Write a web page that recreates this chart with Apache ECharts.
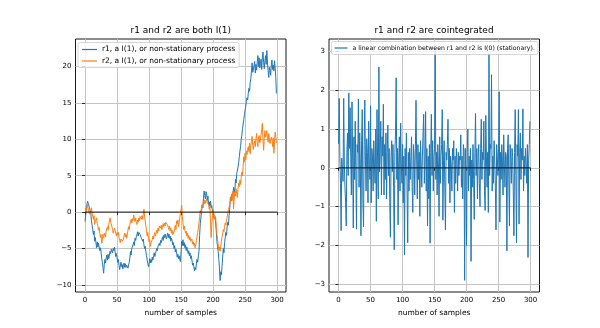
<!DOCTYPE html>
<html>
<head>
<meta charset="utf-8">
<script src="https://cdn.jsdelivr.net/npm/echarts@6/dist/echarts.min.js"></script>
<style>
  html, body { margin: 0; padding: 0; background: #fff; }
  #chart { width: 600px; height: 328px; }
</style>
</head>
<body>
<div id="chart"></div>
<script>
// r1: first I(1) random walk (300 samples)
const r1 = [
  -1.3, -0.4, 0.3, 1.1, 1.5, 1.2, 1.3, 0.6, 0.5, -0.3,
  -1.2, -1.8, -2.4, -3.1, -2.6, -4.0, -3.5, -4.2, -4.9, -4.1,
  -4.8, -4.3, -4.5, -5.3, -4.9, -5.5, -6.4, -6.9, -7.6, -8.4,
  -7.2, -6.5, -7.0, -6.3, -5.9, -6.6, -5.8, -6.4, -6.2, -5.4,
  -5.7, -5.1, -4.9, -5.6, -5.0, -5.3, -4.8, -5.5, -6.1, -5.7,
  -6.3, -6.9, -6.5, -7.3, -7.9, -7.4, -6.9, -7.5, -7.2, -7.8,
  -7.3, -7.0, -7.6, -7.1, -7.6, -7.3, -7.2, -7.7, -7.8, -6.9,
  -6.3, -5.4, -5.9, -5.0, -4.8, -4.5, -4.1, -4.6, -3.6, -3.9,
  -3.4, -3.1, -2.7, -3.3, -2.8, -2.6, -3.1, -2.9, -3.6, -3.5,
  -4.0, -3.7, -4.5, -5.0, -4.7, -5.4, -6.0, -6.6, -7.0, -7.5,
  -7.1, -6.4, -7.0, -6.5, -6.9, -6.2, -6.6, -6.0, -5.6, -6.1,
  -5.7, -5.5, -5.0, -5.3, -4.7, -4.9, -4.3, -4.6, -3.9, -4.2,
  -3.8, -3.4, -3.9, -3.2, -3.5, -3.0, -3.1, -3.7, -3.3, -2.9,
  -3.5, -3.0, -3.6, -3.3, -4.0, -3.6, -3.9, -4.5, -4.2, -5.0,
  -4.6, -5.5, -5.1, -5.6, -6.2, -5.8, -6.4, -6.0, -6.5, -6.8,
  -5.5, -4.0, -4.6, -3.8, -4.6, -4.2, -4.9, -4.5, -5.3, -4.8,
  -5.2, -5.7, -5.3, -6.0, -5.6, -6.4, -6.0, -6.6, -7.3, -7.0,
  -7.5, -8.1, -7.6, -7.9, -7.0, -6.5, -6.9, -6.0, -5.4, -3.2,
  -1.6, -0.8, 0.1, 1.0, 0.6, 1.9, 2.9, 2.3, 1.8, 2.8,
  2.5, 1.6, 2.2, 1.0, 1.4, 0.8, 1.5, 0.6, 0.9, 0.0,
  0.3, -0.5, -0.9, -0.6, -1.5, -2.6, -4.0, -4.7, -5.4, -6.5,
  -7.8, -9.4, -8.2, -8.6, -7.5, -6.2, -5.0, -5.6, -4.2, -3.5,
  -2.8, -3.2, -2.0, -1.4, -1.8, -0.5, 0.4, 2.0, 1.5, 2.4,
  2.6, 2.1, 3.4, 3.2, 2.7, 4.5, 4.0, 5.3, 5.5, 6.2,
  6.8, 7.6, 8.4, 9.0, 10.0, 10.6, 11.5, 12.1, 12.7, 13.4,
  14.0, 14.5, 15.2, 15.7, 15.4, 16.3, 17.0, 16.6, 17.8, 18.3,
  19.4, 20.5, 19.2, 19.0, 20.1, 20.7, 19.1, 20.3, 19.5, 20.6,
  21.5, 20.0, 21.2, 19.8, 20.4, 21.0, 19.6, 21.3, 22.0, 20.6,
  19.7, 20.8, 21.5, 20.3, 22.2, 20.6, 19.4, 18.5, 19.9, 19.5,
  18.8, 20.2, 20.9, 19.6, 20.2, 19.4, 20.8, 19.8, 18.5, 16.3
];

// r2: second I(1) random walk (300 samples)
const r2 = [
  0.6, 0.3, 0.0, 0.7, 1.0, 0.4, 0.2, -0.3, 0.1, -0.2,
  0.6, -0.1, -0.6, -1.0, -0.5, -1.7, -1.2, -1.4, -0.8, -1.6,
  -1.9, -2.5, -2.1, -2.9, -3.5, -3.1, -4.3, -3.8, -3.0, -3.5,
  -3.2, -2.9, -3.4, -2.6, -2.4, -2.0, -2.5, -1.7, -1.3, -0.8,
  -1.4, -1.2, -2.0, -2.4, -2.9, -2.5, -2.2, -2.6, -2.9, -3.3,
  -2.8, -3.1, -2.8, -3.5, -3.9, -4.2, -3.7, -3.5, -4.0, -4.2,
  -3.7, -3.3, -2.9, -3.4, -3.0, -3.6, -3.1, -2.5, -2.0, -2.4,
  -1.7, -1.9, -1.0, -1.5, -0.9, -1.2, -0.4, -0.9, -1.3, -0.8,
  -1.4, -1.7, -1.1, -1.4, -0.8, -1.2, -0.6, -0.4, -1.0, -0.5,
  -1.0, -0.3, 0.4, -0.6, -1.3, -1.9, -2.5, -3.3, -2.8, -3.6,
  -4.1, -3.8, -4.7, -4.2, -4.4, -3.8, -3.3, -3.7, -3.1, -2.8,
  -3.3, -2.9, -2.5, -2.9, -2.2, -2.6, -1.9, -1.7, -2.2, -1.8,
  -2.4, -2.0, -1.6, -2.0, -1.5, -1.9, -1.4, -1.6, -1.2, -1.8,
  -2.0, -2.4, -1.9, -2.6, -2.2, -2.9, -2.5, -3.1, -3.3, -2.7,
  -2.3, -1.8, -2.4, -1.2, -1.6, -1.1, -2.0, -1.5, -0.8, -0.2,
  0.4, 0.96, -0.6, -1.5, -2.4, -1.9, -2.5, -2.9, -2.6, -3.3,
  -2.9, -3.6, -3.2, -3.8, -3.4, -4.0, -4.2, -3.7, -4.4, -4.1,
  -4.6, -4.3, -4.9, -4.5, -3.9, -3.3, -2.8, -2.2, -1.5, -0.6,
  0.2, -0.2, 0.7, 1.0, 0.6, 1.5, 1.1, 1.7, 1.2, 1.4,
  1.8, 1.3, 1.5, 1.0, 0.4, 0.8, -1.2, -3.5, -1.8, -0.5,
  0.3, 0.0, -0.6, -1.0, -0.7, -2.0, -3.0, -3.8, -4.5, -5.2,
  -4.8, -5.4, -4.7, -4.0, -3.4, -3.0, -2.4, -2.7, -2.0, -1.5,
  -1.8, -1.1, -0.7, -0.2, 0.3, 0.5, 1.0, 1.4, 2.1, 2.5,
  1.6, 2.9, 0.45, 1.8, 2.8, 2.2, 3.2, 2.5, 2.0, 3.3,
  4.0, 3.5, 4.4, 3.8, 4.8, 5.5, 5.0, 6.3, 7.6, 6.9,
  8.1, 7.2, 8.4, 7.9, 8.6, 9.0, 8.3, 9.5, 8.0, 9.2,
  9.7, 10.4, 9.1, 8.6, 9.4, 9.8, 9.0, 10.1, 10.8, 9.6,
  9.0, 10.2, 10.5, 9.5, 9.3, 10.6, 11.3, 12.2, 10.0, 8.5,
  10.1, 11.2, 10.3, 10.6, 11.2, 10.2, 9.6, 10.8, 10.0, 9.4,
  9.5, 10.3, 9.9, 9.0, 10.2, 8.1, 9.6, 11.0, 10.4, 9.5
];

// Stationary linear combination of r1 and r2 (300 samples)
const combo = [
  0.62, 1.79, 0.3, -0.4, -1.62, 0.25, 0.28, -0.35, 1.79, 0.1,
  -0.5, -0.9, -1.5, 0.4, 0.9, -0.2, 1.93, 0.5, 1.55, 0.3,
  -0.7, 1.7, 0.2, -1.55, 0.8, -0.3, 1.2, -0.1, -1.58, 0.6,
  0.4, 1.77, -0.5, 0.9, 0.1, -1.75, 0.7, 1.5, -0.8, -1.52,
  0.6, 1.75, 0.2, -0.6, 0.75, 0.4, -0.9, 1.2, 0.1, -0.3,
  1.6, -0.9, 0.5, 0.3, -0.6, 0.7, 0.1, -0.4, 1.0, -1.38,
  1.5, 0.2, -0.8, 2.6, -0.1, 0.4, 1.2, -0.7, 0.8, 0.3,
  1.64, -0.7, 0.6, -0.3, 0.9, -0.8, 0.4, 1.1, -0.2, 0.5,
  -0.9, -1.79, 0.3, 0.7, -0.1, 0.6, -0.5, -2.11, 0.4, 0.9,
  2.32, -0.3, 0.5, -1.47, 0.2, 0.8, -0.6, 1.15, 0.1, -0.4,
  0.6, -0.9, 0.3, -2.24, 0.5, -0.2, 0.9, 0.9, -1.93, 0.4,
  -0.6, 0.5, -0.3, 0.2, 0.8, -0.5, -1.15, 0.6, 0.3, -0.7,
  0.5, 1.74, 0.2, -0.8, 0.6, -0.3, 0.4, -1.25, 0.7, 0.1,
  -0.5, 0.3, 0.9, 1.38, -0.4, 0.2, 1.45, -0.6, 0.5, -1.5,
  0.3, -0.8, 0.6, -1.94, 0.4, 1.38, -0.2, 0.7, -0.6, 0.3,
  0.5, 3.02, -0.3, 0.4, -0.7, 0.6, 0.1, -1.25, 0.8, -0.4,
  0.3, 0.6, 1.5, -1.35, 0.2, 0.7, -0.5, -1.6, 0.4, 0.2,
  0.6, 1.25, -0.4, 0.5, -0.9, 0.3, 0.1, -0.6, 0.5, 0.2,
  0.7, -1.15, 0.3, -0.4, 0.5, 0.1, -0.6, 0.4, -0.2, 0.3,
  0.2, 0.85, -0.5, 0.3, -0.8, 0.6, 0.4, -2.9, 0.5, -0.3,
  -2.0, 0.4, 1.0, -0.6, 0.3, -0.2, 0.5, -2.41, 0.2, -0.5,
  0.6, -0.3, -1.33, 0.4, 1.4, -0.2, 0.5, -0.8, 0.3, 0.6,
  -0.4, -1.0, 0.5, 1.25, -0.3, 0.4, 0.2, 1.2, -0.6, -1.1,
  1.35, 0.3, -0.5, 0.4, -1.15, 2.95, -0.2, 0.6, 0.5, 2.4,
  -0.6, 0.3, -0.4, 0.7, 0.2, -0.5, -1.6, 0.6, 0.3, -0.2,
  0.5, 1.96, -1.4, 0.4, -0.3, 0.6, 0.2, -0.7, 0.85, 0.1,
  -0.5, 0.4, 0.3, -2.14, 0.5, 0.85, -0.3, -1.5, 0.6, 0.2,
  -0.4, 0.5, 0.3, -0.6, -1.75, 0.4, 1.5, -0.2, -1.93, 0.6,
  0.3, 1.5, -1.45, 0.4, 0.9, -0.3, 0.5, 0.2, 1.52, -0.6,
  0.3, -0.2, 0.5, 0.1, -0.4, 0.6, -2.31, 0.2, 0.6, 1.2
];

// Horizontal reference line at zero
const zeroLineX = [0, 300];
const zeroLineY = [0, 0];

// Tick values
const xTicks = [0, 50, 100, 150, 200, 250, 300];
const yTicksLeft = [-10, -5, 0, 5, 10, 15, 20];
const yTicksRight = [-3, -2, -1, 0, 1, 2, 3];

const nameR1 = 'r1, a I(1), or non-stationary process';
const nameR2 = 'r2, a I(1), or non-stationary process';
const nameCombo = 'a linear combination between r1 and r2 is I(0) (stationary).';

const FONT = '"DejaVu Sans", sans-serif';
const fmt = v => (v < 0 ? '\u2212' + Math.abs(v) : String(v));
const toPairs = ys => ys.map((v, i) => [i, v]);
const zeroPairs = zeroLineX.map((x, i) => [x, zeroLineY[i]]);

function xAxisFor(gridIndex) {
  return {
    type: 'value', gridIndex,
    min: -14.95, max: 313.95,
    name: 'number of samples', nameLocation: 'middle', nameGap: 17,
    nameTextStyle: { fontFamily: FONT, fontSize: 7.5, color: '#000' },
    axisLine: { show: false },
    axisTick: { show: true, length: 3, customValues: xTicks, lineStyle: { color: '#000', width: 0.8 } },
    axisLabel: { customValues: xTicks, formatter: fmt, margin: 5, fontFamily: FONT, fontSize: 7, color: '#000' },
    splitLine: { show: true, lineStyle: { color: '#c4c4c4', width: 1 } }
  };
}
function yAxisFor(gridIndex, min, max, ticks) {
  return {
    type: 'value', gridIndex, min, max,
    axisLine: { show: false },
    axisTick: { show: true, length: 3, customValues: ticks, lineStyle: { color: '#000', width: 0.8 } },
    axisLabel: { customValues: ticks, formatter: fmt, margin: 4, fontFamily: FONT, fontSize: 7, color: '#000' },
    splitLine: { show: true, lineStyle: { color: '#c4c4c4', width: 1 } }
  };
}

const chart = echarts.init(document.getElementById('chart'), null, { renderer: 'canvas' });
chart.setOption({
  animation: false,
  backgroundColor: '#fff',
  title: [
    { text: 'r1 and r2 are both I(1)', left: 180.8, top: 26, textAlign: 'center', padding: 0,
      textStyle: { fontFamily: FONT, fontSize: 9, fontWeight: 'normal', color: '#000' } },
    { text: 'r1 and r2 are cointegrated', left: 434, top: 26, textAlign: 'center', padding: 0,
      textStyle: { fontFamily: FONT, fontSize: 9, fontWeight: 'normal', color: '#000' } }
  ],
  legend: [
    { data: [nameR1, nameR2], orient: 'vertical', left: 78, top: 42.5,
      icon: 'rect', padding: [3, 4, 2.5, 4], itemGap: 3.5, itemWidth: 15, itemHeight: 1.2,
      backgroundColor: 'rgba(255,255,255,0.8)', borderColor: '#cccccc', borderWidth: 0.8, borderRadius: 2,
      textStyle: { fontFamily: FONT, fontSize: 7.5, color: '#000' } },
    { data: [nameCombo], orient: 'horizontal', left: 331.5, top: 41.5,
      icon: 'rect', padding: [3.5, 3, 3.5, 3], itemWidth: 13, itemHeight: 1.2,
      backgroundColor: 'rgba(255,255,255,0.8)', borderColor: '#cccccc', borderWidth: 0.8, borderRadius: 2,
      textStyle: { fontFamily: FONT, fontSize: 6.2, color: '#000' } }
  ],
  grid: [
    { left: 75.5, top: 39, width: 210.5, height: 253, show: true, borderColor: '#000', borderWidth: 0.9, backgroundColor: 'transparent' },
    { left: 329, top: 39, width: 210.5, height: 253, show: true, borderColor: '#000', borderWidth: 0.9, backgroundColor: 'transparent' }
  ],
  xAxis: [xAxisFor(0), xAxisFor(1)],
  yAxis: [
    yAxisFor(0, -10.98, 23.78, yTicksLeft),
    yAxisFor(1, -3.2, 3.32, yTicksRight)
  ],
  series: [
    { name: nameR1, type: 'line', xAxisIndex: 0, yAxisIndex: 0, data: toPairs(r1),
      symbol: 'none', color: '#1f77b4', lineStyle: { width: 1, color: '#1f77b4' }, z: 2 },
    { name: nameR2, type: 'line', xAxisIndex: 0, yAxisIndex: 0, data: toPairs(r2),
      symbol: 'none', color: '#ff7f0e', lineStyle: { width: 1, color: '#ff7f0e' }, z: 3 },
    { name: 'zero-left', type: 'line', xAxisIndex: 0, yAxisIndex: 0, data: zeroPairs,
      symbol: 'none', lineStyle: { width: 0.9, color: '#000' }, z: 4, silent: true },
    { name: nameCombo, type: 'line', xAxisIndex: 1, yAxisIndex: 1, data: toPairs(combo),
      symbol: 'none', color: '#1f77b4', lineStyle: { width: 1, color: '#1f77b4' }, z: 2 },
    { name: 'zero-right', type: 'line', xAxisIndex: 1, yAxisIndex: 1, data: zeroPairs,
      symbol: 'none', lineStyle: { width: 0.9, color: '#000' }, z: 4, silent: true }
  ]
});
</script>
</body>
</html>
